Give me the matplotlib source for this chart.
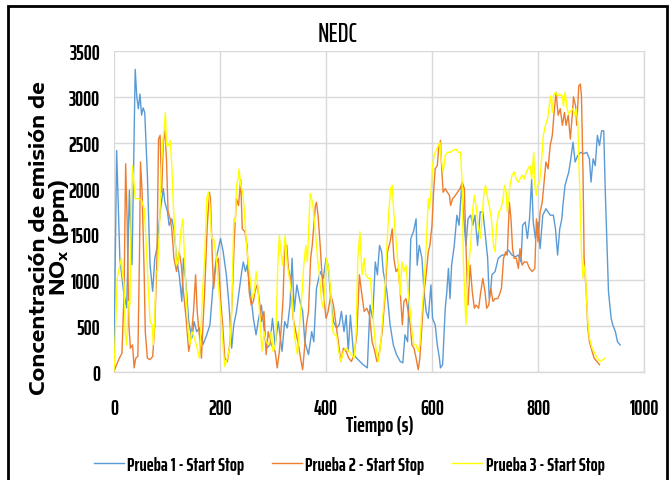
import matplotlib
matplotlib.use("Agg")
import matplotlib.pyplot as plt
from matplotlib.patches import Rectangle

# ---------------- data (time in s, NOx in ppm) ----------------
t1 = [0, 5, 11, 18, 24, 29, 34, 40, 43, 46, 49, 52, 55, 58, 63, 68, 73, 77, 82, 87, 93, 96, 101, 104, 109, 113,
      118, 123, 128, 131, 136, 141, 147, 151, 156, 161, 168, 175, 181, 187, 193, 201, 206, 212, 217, 222, 226,
      231, 236, 241, 244, 248, 251, 256, 263, 268, 273, 278, 283, 288, 294, 299, 304, 310, 317, 322, 327, 332,
      336, 340, 345, 351, 356, 360, 367, 373, 377, 382, 389, 395, 400, 404, 409, 414, 420, 425, 429, 434, 438,
      442, 446, 452, 458, 464, 470, 478, 483, 488, 493, 497, 501, 505, 508, 515, 521, 527, 533, 540, 545, 549,
      554, 557, 560, 565, 570, 572, 576, 581, 585, 589, 593, 598, 601, 606, 610, 614, 616, 620, 625, 628, 631,
      634, 637, 642, 647, 651, 656, 660, 664, 668, 673, 677, 681, 686, 691, 696, 700, 705, 708, 711, 713, 719,
      725, 732, 738, 744, 751, 757, 763, 768, 771, 776, 780, 784, 788, 791, 795, 800, 804, 809, 815, 823, 829,
      833, 837, 841, 845, 847, 851, 858, 862, 866, 870, 875, 880, 886, 892, 897, 900, 904, 908, 912, 916, 920,
      924, 927, 930, 933, 938, 941, 946, 950, 955]
v1 = [150, 2415, 1240, 880, 700, 1980, 1170, 3300, 3000, 2870, 3030, 2800, 2880, 2830, 2140, 1170, 880, 1240, 1380,
      1745, 2000, 1850, 1745, 1600, 1670, 1560, 1240, 1060, 770, 1240, 950, 550, 370, 550, 440, 480, 300, 405, 515,
      950, 1240, 1455, 1310, 1060, 730, 260, 515, 660, 875, 1095, 1200, 1095, 1165, 950, 585, 405, 585, 730, 480,
      260, 295, 585, 295, 550, 225, 550, 480, 730, 1240, 660, 950, 770, 660, 330, 190, 440, 330, 910, 1095, 1020,
      1240, 1165, 800, 550, 480, 515, 660, 440, 620, 225, 620, 190, 150, 115, 80, 45, 730, 585, 1200, 1060, 1380,
      1310, 1095, 875, 515, 295, 190, 115, 100, 405, 330, 875, 1455, 1530, 1670, 1165, 1380, 1240, 875, 660, 585,
      950, 585, 515, 295, 150, 45, 80, 695, 875, 1130, 800, 1165, 1380, 1710, 1600, 2035, 1670, 1380, 1670, 1710,
      1600, 1710, 1380, 1745, 1745, 1530, 1240, 800, 910, 1060, 1095, 1240, 1275, 1275, 1330, 1275, 1255, 1275,
      1200, 1600, 1635, 1455, 1670, 2100, 1635, 1455, 1635, 1345, 1710, 1780, 1710, 1710, 1560, 1275, 1560, 1670,
      1815, 2035, 2180, 2325, 2505, 2290, 2360, 2395, 2380, 2395, 2325, 2070, 2325, 2250, 2580, 2470, 2630, 2630,
      1960, 1420, 875, 585, 515, 440, 330, 295]

t2 = [0, 5, 10, 15, 19, 22, 25, 28, 31, 35, 38, 41, 45, 48, 50, 53, 57, 59, 63, 68, 73, 77, 81, 84, 87, 90, 93, 96,
      99, 102, 106, 109, 113, 118, 123, 127, 131, 136, 141, 146, 150, 154, 157, 161, 165, 167, 171, 176, 180, 182,
      186, 188, 192, 197, 201, 205, 209, 214, 219, 223, 227, 231, 235, 239, 242, 247, 251, 255, 259, 263, 266, 270,
      274, 278, 283, 287, 291, 295, 300, 304, 308, 312, 315, 319, 322, 326, 329, 333, 338, 343, 348, 353, 356, 360,
      363, 367, 371, 374, 377, 380, 382, 385, 389, 392, 396, 400, 404, 409, 414, 419, 424, 428, 433, 438, 443, 448,
      453, 458, 463, 467, 472, 477, 482, 487, 492, 496, 501, 506, 511, 516, 521, 525, 528, 532, 536, 540, 544, 547,
      551, 555, 559, 562, 566, 570, 574, 577, 581, 585, 589, 593, 596, 600, 603, 606, 610, 613, 616, 618, 621, 625,
      629, 633, 635, 639, 644, 648, 653, 657, 661, 664, 668, 672, 676, 680, 683, 688, 692, 696, 700, 703, 707, 711,
      715, 719, 724, 727, 731, 735, 739, 742, 746, 749, 752, 755, 759, 763, 766, 770, 774, 779, 784, 789, 794, 797,
      800, 804, 808, 812, 815, 819, 823, 827, 830, 834, 838, 842, 846, 850, 853, 857, 861, 865, 867, 871, 873, 877,
      880, 882, 885, 887, 891, 894, 897, 902, 906, 911, 916]
v2 = [10, 80, 150, 205, 875, 2270, 1600, 515, 260, 295, 45, 150, 170, 1240, 2290, 1960, 1060, 440, 150, 135, 170,
      515, 1240, 2540, 2580, 1960, 2510, 2630, 2325, 1745, 1670, 1560, 1240, 1095, 1310, 1165, 875, 585, 225, 405,
      660, 1060, 660, 405, 150, 405, 875, 1600, 1960, 1890, 1165, 910, 1165, 1240, 800, 515, 150, 115, 330, 800,
      1455, 1890, 1815, 2100, 1560, 1530, 1380, 875, 730, 770, 875, 950, 800, 550, 660, 190, 440, 330, 260, 225, 45,
      225, 440, 800, 1380, 1380, 1130, 1020, 585, 440, 295, 115, 25, 295, 515, 660, 1240, 1380, 1600, 1815, 1850,
      1710, 1380, 1095, 800, 585, 660, 840, 730, 515, 295, 115, 260, 225, 150, 115, 190, 405, 1060, 875, 660, 695,
      620, 330, 225, 115, 225, 440, 800, 1310, 1420, 1560, 1240, 1095, 1130, 875, 515, 770, 800, 660, 515, 295, 260,
      150, 25, 150, 515, 875, 1060, 1310, 1380, 1600, 1960, 2215, 2250, 2470, 2525, 2250, 1960, 2000, 1960, 1925,
      1815, 1890, 1925, 1960, 2000, 2070, 2000, 1380, 730, 1165, 875, 695, 730, 695, 875, 1020, 875, 695, 730, 910,
      770, 800, 800, 840, 910, 1240, 1310, 1275, 1850, 1670, 1345, 1240, 1240, 1130, 1345, 1165, 1200, 1200, 1130,
      1095, 1130, 1670, 1420, 1745, 1850, 2100, 2290, 2215, 2470, 2580, 2800, 3050, 2800, 2870, 2690, 2830, 2690,
      2800, 2540, 2830, 3000, 2900, 2690, 3120, 3140, 3010, 2140, 1240, 875, 480, 330, 225, 150, 115, 80]

t3 = [0, 2, 6, 11, 14, 16, 19, 21, 24, 27, 30, 33, 35, 38, 40, 46, 52, 57, 60, 65, 68, 72, 74, 77, 79, 82, 86, 89,
      92, 94, 97, 99, 103, 106, 109, 112, 116, 118, 122, 126, 130, 132, 136, 140, 143, 147, 152, 157, 161, 165, 167,
      171, 175, 178, 181, 184, 188, 193, 198, 203, 206, 209, 214, 219, 222, 226, 229, 231, 234, 236, 239, 243, 246,
      250, 254, 258, 261, 265, 268, 271, 275, 279, 283, 287, 292, 297, 300, 305, 309, 312, 315, 318, 323, 327, 331,
      336, 341, 346, 351, 355, 358, 362, 365, 367, 370, 372, 376, 380, 384, 387, 391, 395, 399, 401, 405, 409, 413,
      416, 420, 424, 428, 433, 438, 443, 448, 453, 457, 460, 464, 468, 472, 475, 480, 484, 488, 492, 496, 499, 503,
      507, 511, 515, 518, 522, 525, 527, 530, 533, 537, 540, 543, 547, 551, 555, 559, 562, 566, 570, 574, 577, 581,
      585, 589, 593, 595, 598, 601, 604, 606, 609, 612, 615, 618, 621, 625, 629, 634, 639, 645, 650, 654, 657, 659,
      662, 664, 667, 669, 673, 677, 680, 683, 687, 691, 695, 698, 701, 705, 708, 712, 716, 719, 722, 726, 730, 734,
      737, 740, 742, 745, 747, 751, 755, 759, 763, 766, 770, 774, 778, 781, 785, 788, 792, 794, 797, 799, 803, 807,
      810, 814, 818, 822, 824, 827, 829, 833, 837, 841, 844, 846, 848, 851, 855, 858, 862, 866, 870, 872, 875, 877,
      880, 882, 885, 889, 891, 894, 897, 902, 907, 912, 917, 923, 926]
v3 = [10, 330, 1020, 1165, 1240, 1060, 950, 440, 295, 770, 730, 1960, 2250, 2035, 1890, 1890, 1870, 1780, 1490, 875,
      550, 515, 295, 585, 1095, 1095, 1600, 2180, 2505, 2615, 2830, 2470, 2470, 2525, 2250, 1815, 1380, 1165, 1240,
      1530, 1670, 1380, 875, 440, 295, 440, 370, 260, 150, 585, 875, 1240, 1890, 1960, 1815, 1455, 1455, 1240, 875,
      515, 260, 60, 150, 295, 660, 1670, 1635, 2035, 2100, 2215, 2035, 1960, 1745, 1380, 1165, 950, 800, 875, 1095,
      950, 620, 225, 440, 330, 295, 440, 225, 295, 1165, 1490, 1310, 1165, 1490, 1165, 1020, 800, 370, 190, 585, 875,
      1165, 1380, 1200, 1530, 1945, 1925, 1780, 1530, 1240, 1095, 800, 695, 1060, 1240, 1130, 875, 440, 405, 405,
      225, 115, 225, 260, 225, 190, 150, 440, 1240, 1530, 1060, 1240, 1060, 1020, 1020, 660, 370, 190, 115, 295, 600,
      875, 1380, 1710, 2000, 2035, 1815, 1560, 1380, 1095, 840, 1200, 1095, 1165, 875, 660, 440, 295, 295, 225, 295,
      660, 950, 1380, 1890, 1780, 1960, 2250, 2360, 2395, 2430, 2470, 2505, 2290, 2180, 2360, 2395, 2395, 2415, 2430,
      2395, 2395, 2035, 1240, 800, 515, 950, 1165, 1380, 1780, 1925, 1815, 1600, 1455, 1710, 1960, 2035, 1890, 1815,
      1670, 1380, 1310, 1600, 1745, 1780, 1890, 2035, 1960, 1745, 1890, 2035, 2145, 2180, 2105, 2070, 2105, 2145,
      2105, 2180, 2215, 2250, 2105, 2395, 2035, 1925, 2035, 2070, 2325, 2580, 2690, 2760, 2940, 3010, 2830, 3010,
      3050, 3010, 3030, 3010, 3010, 2900, 3050, 2870, 2810, 2850, 2870, 2800, 2870, 2720, 2325, 1780, 1310, 1020,
      1165, 875, 550, 370, 260, 205, 150, 115, 135, 150]

series_labels = ["Prueba 1 - Start Stop", "Prueba 2 - Start Stop", "Prueba 3 - Start Stop"]
series_colors = ["#5B9BD5", "#ED7D31", "#FFFF00"]

x_ticks = [0, 200, 400, 600, 800, 1000]
y_ticks = [0, 500, 1000, 1500, 2000, 2500, 3000, 3500]

# ---------------- fonts ----------------
NARROW = ["Saira ExtraCondensed", "Fira Sans Extra Condensed", "DejaVu Sans"]
WIDE = ["Encode Sans Expanded", "Carlito", "DejaVu Sans"]
plt.rcParams["font.family"] = NARROW
plt.rcParams["mathtext.fontset"] = "custom"
plt.rcParams["mathtext.rm"] = "Encode Sans Expanded:bold"
plt.rcParams["mathtext.bf"] = "Encode Sans Expanded:bold"
plt.rcParams["mathtext.it"] = "Encode Sans Expanded:bold"

W, H = 670, 481


def fx(px):
    return px / W


def fy(py):
    return 1 - py / H


# ---------------- figure ----------------
fig = plt.figure(figsize=(W / 100, H / 100), dpi=100)
ax = fig.add_axes([fx(114), fy(373), 530 / W, 321 / H])

for t, v, lab, col in zip([t1, t2, t3], [v1, v2, v3], series_labels, series_colors):
    ax.plot(t, v, color=col, lw=1.0, label=lab, solid_joinstyle="round")

ax.set_xlim(0, 1000)
ax.set_ylim(0, 3500)
ax.set_xticks(x_ticks)
ax.set_yticks(y_ticks)
ax.grid(True, color="#D9D9D9", lw=1.0)
ax.set_axisbelow(True)
for side in ["left", "top"]:
    ax.spines[side].set_visible(False)
for side in ["bottom", "right"]:
    ax.spines[side].set_color("#D9D9D9")
    ax.spines[side].set_linewidth(1.0)
ax.tick_params(axis="both", length=0, labelsize=14.5)
ax.tick_params(axis="x", pad=19)
ax.tick_params(axis="y", pad=10)
for lbl in ax.get_xticklabels() + ax.get_yticklabels():
    lbl.set_fontweight("bold")

fig.text(fx(338), fy(34), "NEDC", fontsize=19, fontweight="medium", ha="center", va="center")
fig.text(fx(380), fy(426), "Tiempo (s)", fontsize=15, fontweight="bold", ha="center", va="center")
fig.text(fx(50), fy(238), "Concentración de emisión de\nNO$_\\mathbf{x}$ (ppm)", family=WIDE,
         fontsize=14.5, fontweight="bold", rotation=90, ha="center", va="center",
         multialignment="center", linespacing=0.92)

fig.legend(loc="center", bbox_to_anchor=(fx(349), fy(466)), ncol=3, frameon=False,
           prop={"weight": "bold", "size": 13.5}, handlelength=1.6, columnspacing=1.45,
           handletextpad=0.2)

# outer chart border
fig.patches.append(Rectangle((fx(8), -0.02), 659 / W, 1.02 - 7 / H, transform=fig.transFigure,
                             fill=False, edgecolor="black", lw=2.0))

fig.savefig("out.png", dpi=100)
